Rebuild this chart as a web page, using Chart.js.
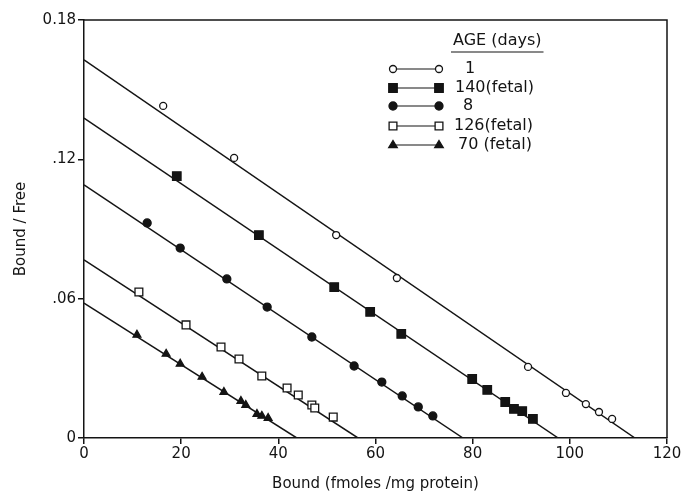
<!DOCTYPE html>
<html>
<head>
<meta charset="utf-8">
<script src="https://cdn.jsdelivr.net/npm/chart.js@4/dist/chart.umd.min.js"></script>
<style>
  html, body { margin: 0; padding: 0; background: #fff; }
  #wrap { width: 691px; height: 497px; position: relative; }
</style>
</head>
<body>
<div id="wrap"><canvas id="scatchard"></canvas></div>
<script>
// Scatchard plot data
const ageLabels = ['1', '140(fetal)', '8', '126(fetal)', '70 (fetal)'];

const age1X = [16.3, 30.9, 51.9, 64.4, 91.4, 99.2, 103.3, 106.0, 108.7];
const age1Y = [0.143, 0.1206, 0.0874, 0.0689, 0.0306, 0.0194, 0.0146, 0.0112, 0.0082];

const age140X = [19.1, 36.0, 51.5, 58.9, 65.3, 79.9, 83.0, 86.7, 88.5, 90.2, 92.4];
const age140Y = [0.1128, 0.0874, 0.065, 0.0543, 0.0448, 0.0254, 0.0207, 0.0155, 0.0125, 0.0116, 0.0082];

const age8X = [13.0, 19.8, 29.4, 37.7, 46.9, 55.6, 61.3, 65.5, 68.8, 71.8];
const age8Y = [0.0926, 0.0818, 0.0685, 0.0564, 0.0435, 0.031, 0.0241, 0.0181, 0.0134, 0.0095];

const age126X = [11.3, 21.0, 28.2, 31.9, 36.6, 41.8, 44.1, 46.9, 47.5, 51.3];
const age126Y = [0.0629, 0.0487, 0.0392, 0.034, 0.0267, 0.0215, 0.0185, 0.0142, 0.0129, 0.009];

const age70X = [10.9, 16.9, 19.8, 24.3, 28.8, 32.3, 33.3, 35.6, 36.6, 37.9];
const age70Y = [0.0444, 0.0362, 0.0319, 0.0263, 0.0198, 0.0159, 0.0142, 0.0103, 0.0095, 0.0086];

// fitted lines: y intercept (Bound/Free) and x intercept (Bound)
const fitYIntercept = [0.1628, 0.1378, 0.109, 0.0767, 0.0581];
const fitXIntercept = [113.4, 97.6, 78.0, 56.4, 43.8];

const xTicks = [0, 20, 40, 60, 80, 100, 120];
const yTicks = [0, 0.06, 0.12, 0.18];
const yTickText = ['0', '.06', '.12', '0.18'];

const INK = '#141414';
const FONT = "'DejaVu Sans', sans-serif";

const markers = [
    { style: 'circle', radius: 3.5, fill: '#fff' },
    { style: 'rect', radius: 6, fill: INK },
    { style: 'circle', radius: 4, fill: INK },
    { style: 'rect', radius: 5.5, fill: '#fff' },
    { style: 'triangle', radius: 4.5, fill: INK }
];

function pts(xs, ys) {
    return xs.map((x, i) => ({ x: x, y: ys[i] }));
}

const seriesX = [age1X, age140X, age8X, age126X, age70X];
const seriesY = [age1Y, age140Y, age8Y, age126Y, age70Y];

const datasets = [];
for (let i = 0; i < 5; i++) {
    datasets.push({
        label: 'fit ' + ageLabels[i],
        data: [{ x: 0, y: fitYIntercept[i] }, { x: fitXIntercept[i], y: 0 }],
        showLine: true,
        borderColor: INK,
        borderWidth: 1.5,
        pointRadius: 0,
        order: 2
    });
}
for (let i = 0; i < 5; i++) {
    datasets.push({
        label: ageLabels[i],
        data: pts(seriesX[i], seriesY[i]),
        showLine: false,
        pointStyle: markers[i].style,
        pointRadius: markers[i].radius,
        pointBackgroundColor: markers[i].fill,
        pointBorderColor: INK,
        pointBorderWidth: 1.3,
        order: 1
    });
}

function drawMarker(ctx, m, x, y) {
    ctx.save();
    ctx.fillStyle = m.fill;
    ctx.strokeStyle = INK;
    ctx.lineWidth = 1.3;
    ctx.beginPath();
    if (m.style === 'circle') {
        ctx.arc(x, y, m.radius, 0, Math.PI * 2);
    } else if (m.style === 'rect') {
        const s = m.radius * Math.SQRT1_2;
        ctx.rect(x - s, y - s, s * 2, s * 2);
    } else {
        const r = m.radius;
        ctx.moveTo(x, y - r);
        ctx.lineTo(x + r * 0.95, y + r * 0.6);
        ctx.lineTo(x - r * 0.95, y + r * 0.6);
        ctx.closePath();
    }
    ctx.fill();
    ctx.stroke();
    ctx.restore();
}

// frame around the plot + hand-drawn style legend
const framePlugin = {
    id: 'frame',
    afterDraw(chart) {
        const { ctx, chartArea: a } = chart;
        ctx.save();
        ctx.strokeStyle = INK;
        ctx.lineWidth = 1.5;
        ctx.beginPath();
        ctx.moveTo(a.left, a.top);
        ctx.lineTo(a.right, a.top);
        ctx.lineTo(a.right, a.bottom);
        ctx.stroke();

        // legend
        ctx.fillStyle = INK;
        ctx.font = '16px ' + FONT;
        ctx.textBaseline = 'middle';
        ctx.textAlign = 'left';
        ctx.fillText('AGE (days)', 453, 41);
        const w = ctx.measureText('AGE (days)').width;
        ctx.lineWidth = 1.2;
        ctx.beginPath();
        ctx.moveTo(451, 52);
        ctx.lineTo(455 + w, 52);
        ctx.stroke();

        const rowY = [69, 88, 106, 126, 145];
        const textX = [465, 455, 463, 454, 458];
        for (let i = 0; i < 5; i++) {
            ctx.beginPath();
            ctx.lineWidth = 1.2;
            ctx.moveTo(393, rowY[i]);
            ctx.lineTo(439, rowY[i]);
            ctx.stroke();
            drawMarker(ctx, markers[i], 393, rowY[i]);
            drawMarker(ctx, markers[i], 439, rowY[i]);
            ctx.fillText(ageLabels[i], textX[i], rowY[i]);
        }
        ctx.restore();
    }
};

const ctx = document.getElementById('scatchard').getContext('2d');
new Chart(ctx, {
    type: 'scatter',
    data: { datasets: datasets },
    options: {
        responsive: true,
        maintainAspectRatio: false,
        animation: false,
        layout: { padding: { top: 20, right: 24, left: 8, bottom: 0 } },
        plugins: {
            legend: { display: false },
            tooltip: { enabled: false }
        },
        scales: {
            x: {
                type: 'linear',
                min: 0,
                max: 120,
                afterBuildTicks(axis) {
                    axis.ticks = xTicks.map(v => ({ value: v }));
                },
                afterFit(axis) { axis.height = 59; },
                grid: {
                    drawOnChartArea: false,
                    color: INK,
                    lineWidth: 1.5,
                    tickLength: 6
                },
                border: { color: INK, width: 1.5 },
                ticks: {
                    color: INK,
                    font: { family: FONT, size: 15 },
                    padding: 1,
                    maxRotation: 0
                },
                title: {
                    display: true,
                    text: 'Bound (fmoles /mg protein)',
                    color: INK,
                    font: { family: FONT, size: 15 },
                    padding: { top: 4 }
                }
            },
            y: {
                type: 'linear',
                min: 0,
                max: 0.18,
                afterBuildTicks(axis) {
                    axis.ticks = yTicks.map(v => ({ value: v }));
                },
                afterFit(axis) { axis.width = 76; },
                grid: {
                    drawOnChartArea: false,
                    color: INK,
                    lineWidth: 1.5,
                    tickLength: 6
                },
                border: { color: INK, width: 1.5 },
                ticks: {
                    color: INK,
                    font: { family: FONT, size: 15 },
                    padding: 2,
                    callback(value) {
                        const i = yTicks.findIndex(t => Math.abs(t - value) < 1e-9);
                        return i >= 0 ? yTickText[i] : '';
                    }
                },
                title: {
                    display: true,
                    text: 'Bound / Free',
                    color: INK,
                    font: { family: FONT, size: 15 },
                    padding: { bottom: 4 }
                }
            }
        }
    },
    plugins: [framePlugin]
});
</script>
</body>
</html>
